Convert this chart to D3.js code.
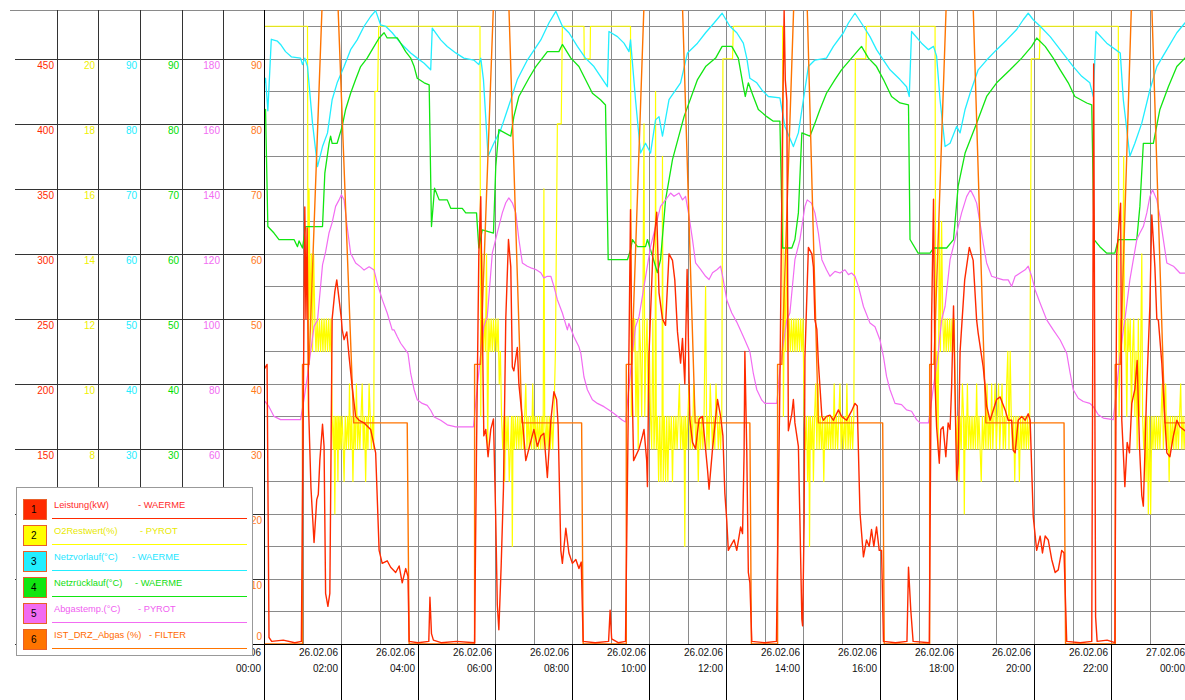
<!DOCTYPE html>
<html>
<head>
<meta charset="utf-8">
<script src="https://cdn.jsdelivr.net/npm/d3@7"></script>
<style>
  body { margin: 0; background: #fff; }
  text { font-family: "Liberation Sans", Arial, sans-serif; }
</style>
</head>
<body>
<div id="chart"></div>
<script>
// --- data: time in hours from 26.02.06 00:00 ---
var tickHours = [0, 2, 4, 6, 8, 10, 12, 14, 16, 18, 20, 22, 24];
var tickDates = ["26.02.06", "26.02.06", "26.02.06", "26.02.06", "26.02.06", "26.02.06", "26.02.06",
                 "26.02.06", "26.02.06", "26.02.06", "26.02.06", "26.02.06", "27.02.06"];
var tickTimes = ["00:00", "02:00", "04:00", "06:00", "08:00", "10:00", "12:00",
                 "14:00", "16:00", "18:00", "20:00", "22:00", "00:00"];

var leistungTicks = [0, 50, 100, 150, 200, 250, 300, 350, 400, 450];
var o2Ticks = [2, 4, 6, 8, 10, 12, 14, 16, 18, 20];
var vorlaufTicks = [0, 10, 20, 30, 40, 50, 60, 70, 80, 90];
var ruecklaufTicks = [0, 10, 20, 30, 40, 50, 60, 70, 80, 90];
var abgasTicks = [0, 20, 40, 60, 80, 100, 120, 140, 160, 180];
var drzTicks = [0, 10, 20, 30, 40, 50, 60, 70, 80, 90];

var seriesNames = ["Leistung(kW)", "O2Restwert(%)", "Netzvorlauf(\u00b0C)", "Netzr\u00fccklauf(\u00b0C)", "Abgastemp.(\u00b0C)", "IST_DRZ_Abgas (%)"];
var seriesSources = ["- WAERME", "- PYROT", "- WAERME", "- WAERME", "- PYROT", "- FILTER"];

// Leistung (kW)
var leistung = [[0,211],[0.08,215],[0.13,5],[0.2,2],[0.5,3],[0.8,1],[0.97,2],
 [1.02,180],[1.06,336],[1.09,250],[1.12,320],[1.16,180],[1.22,120],[1.30,78],[1.37,111],[1.41,115],[1.45,141],[1.52,169],[1.56,152],[1.60,39],[1.66,29],[1.71,39],[1.77,250],[1.84,271],[1.89,280],[1.95,265],[2.01,250],[2.03,242],[2.08,234],[2.15,240],[2.21,221],[2.29,198],[2.38,175],[2.47,172],[2.60,170],[2.77,165],[2.90,147],[2.99,72],[3.07,62],[3.20,64],[3.29,59],[3.42,55],[3.51,60],[3.59,47],[3.68,58],[3.74,52],[3.77,2],[4.0,1],[4.28,2],[4.31,36],[4.35,8],[4.40,3],[4.6,1],[5.0,2],[5.47,1],
 [5.52,150],[5.58,300],[5.63,344],[5.67,250],[5.71,160],[5.76,165],[5.82,144],[5.89,165],[5.96,173],[6.02,95],[6.06,30],[6.10,11],[6.16,60],[6.22,120],[6.28,250],[6.35,311],[6.41,290],[6.45,213],[6.49,210],[6.58,228],[6.62,200],[6.67,185],[6.71,173],[6.80,141],[6.88,150],[7.01,165],[7.10,152],[7.19,160],[7.27,162],[7.36,128],[7.45,172],[7.53,194],[7.60,188],[7.64,168],[7.71,72],[7.75,62],[7.84,89],[7.92,70],[8.01,62],[8.10,65],[8.18,58],[8.24,63],[8.29,2],[8.6,1],[8.95,2],[8.99,26],[9.03,4],[9.2,1],[9.39,2],
 [9.45,150],[9.52,334],[9.56,200],[9.60,141],[9.74,150],[9.83,160],[9.87,165],[9.94,141],[9.96,121],[10.0,223],[10.1,300],[10.2,332],[10.26,270],[10.35,250],[10.43,245],[10.52,300],[10.61,295],[10.67,280],[10.74,240],[10.82,216],[10.87,235],[10.93,200],[10.99,288],[11.06,173],[11.13,155],[11.21,150],[11.30,173],[11.39,175],[11.52,134],[11.56,119],[11.65,150],[11.78,188],[11.86,175],[11.92,160],[11.97,116],[12.02,95],[12.06,72],[12.15,77],[12.21,80],[12.28,72],[12.38,90],[12.43,85],[12.47,147],[12.49,225],[12.54,147],[12.58,55],[12.62,47],[12.67,2],[13.0,1],[13.31,2],
 [13.40,200],[13.47,400],[13.51,487],[13.54,434],[13.58,418],[13.62,164],[13.71,177],[13.75,188],[13.79,170],[13.88,152],[13.92,95],[13.97,19],[13.99,14],[14.03,95],[14.05,220],[14.14,305],[14.23,300],[14.27,290],[14.31,249],[14.36,242],[14.40,216],[14.44,198],[14.49,175],[14.53,172],[14.61,175],[14.70,176],[14.79,172],[14.92,180],[15.0,175],[15.13,172],[15.26,179],[15.35,185],[15.41,183],[15.48,101],[15.57,67],[15.65,80],[15.72,75],[15.78,88],[15.84,75],[15.91,90],[15.98,72],[16.04,72],[16.09,2],[16.4,1],[16.70,2],[16.74,59],[16.80,26],[16.86,2],[17.28,1],
 [17.34,250],[17.39,342],[17.43,200],[17.47,167],[17.54,139],[17.58,165],[17.64,167],[17.71,144],[17.77,170],[17.82,165],[17.86,198],[17.91,260],[17.99,126],[18.03,139],[18.08,225],[18.2,280],[18.32,305],[18.42,295],[18.51,249],[18.55,239],[18.60,229],[18.68,213],[18.73,198],[18.77,183],[18.86,172],[19.03,188],[19.12,190],[19.25,180],[19.33,172],[19.42,172],[19.46,149],[19.51,147],[19.59,172],[19.68,175],[19.77,172],[19.85,177],[19.90,172],[19.98,98],[20.07,72],[20.16,83],[20.22,70],[20.29,83],[20.37,80],[20.46,65],[20.55,55],[20.63,57],[20.72,72],[20.78,70],[20.85,2],[21.2,1],[21.50,2],[21.55,446],[21.60,21],[21.64,2],[21.9,3],[22.1,1],
 [22.15,300],[22.25,339],[22.28,172],[22.32,147],[22.36,121],[22.42,155],[22.48,147],[22.54,185],[22.62,196],[22.68,218],[22.74,152],[22.80,114],[22.84,106],[22.93,198],[23.01,260],[23.06,330],[23.14,290],[23.19,250],[23.23,249],[23.32,216],[23.36,193],[23.45,147],[23.53,144],[23.62,160],[23.71,172],[23.79,167],[23.92,164],[24,166]];

// O2Restwert (%)
var o2 = [[0,21],[1.13,21],[1.15,9],[1.17,16],[1.20,12],[1.23,14],[1.26,11],[1.29,14],[1.32,12],[1.35,11],[1.38,12],[1.41,11],[1.44,12],[1.47,11],[1.50,12],[1.53,11],[1.56,12],[1.59,11],[1.62,12],[1.65,11],[1.68,12],[1.71,11],[1.74,12],[1.77,9],[1.80,8],[1.82,9],[1.84,6],[1.86,9],[1.88,8],[1.90,9],[1.92,7],[1.94,9],[1.96,8],[1.98,9],[2.00,8],[2.03,9],[2.06,8],[2.08,7],[2.11,9],[2.14,8],[2.17,9],[2.20,8],[2.22,10],[2.25,8],[2.28,9],[2.31,7],[2.34,9],[2.37,8],[2.40,10],[2.43,8],[2.46,9],[2.49,8],[2.52,9],[2.55,10],[2.58,8],[2.61,9],[2.64,7],[2.67,9],[2.70,8],[2.73,10],[2.76,9],[2.79,8],[2.82,9],[2.85,8],[2.88,19],[2.95,19],[2.98,21],
 [5.61,21],[5.63,9],[5.66,14],[5.69,11],[5.72,12],[5.75,11],[5.78,14],[5.81,8],[5.84,12],[5.87,11],[5.90,12],[5.93,11],[5.96,12],[5.99,11],[6.02,12],[6.05,11],[6.08,12],[6.11,10],[6.14,11],[6.17,9],[6.20,8],[6.23,9],[6.25,7],[6.28,9],[6.31,8],[6.34,9],[6.37,7],[6.40,8],[6.43,9],[6.45,5],[6.47,9],[6.50,8],[6.53,9],[6.56,8],[6.59,9],[6.62,8],[6.65,9],[6.68,8],[6.71,9],[6.74,8],[6.77,9],[6.80,10],[6.83,8],[6.86,9],[6.89,8],[6.92,9],[6.95,8],[6.98,10],[7.01,8],[7.04,9],[7.07,8],[7.10,9],[7.13,8],[7.16,9],[7.19,8],[7.22,9],[7.25,8],[7.27,16],[7.29,9],[7.32,8],[7.35,9],[7.38,8],[7.41,9],[7.44,8],[7.47,9],[7.50,8],[7.53,9],[7.57,11],[7.62,18],[7.72,18],[7.75,21],[8.31,21],[8.32,20],[8.47,20],[8.48,21],
 [9.52,21],[9.54,9],[9.57,12],[9.60,11],[9.63,12],[9.66,9],[9.69,11],[9.72,8],[9.75,12],[9.78,11],[9.81,9],[9.84,12],[9.87,18],[9.89,9],[9.92,11],[9.95,12],[9.98,9],[10.01,11],[10.04,9],[10.07,8],[10.10,12],[10.13,8],[10.16,9],[10.17,19],[10.19,8],[10.22,9],[10.25,7],[10.28,9],[10.31,7],[10.34,9],[10.35,17],[10.37,7],[10.40,9],[10.43,7],[10.46,9],[10.49,7],[10.52,9],[10.55,8],[10.58,9],[10.61,7],[10.64,9],[10.67,8],[10.70,9],[10.73,8],[10.76,9],[10.79,10],[10.82,8],[10.85,9],[10.88,8],[10.91,9],[10.93,5],[10.95,9],[10.98,8],[11.01,9],[11.04,10],[11.07,8],[11.10,9],[11.13,8],[11.16,10],[11.19,9],[11.22,8],[11.25,9],[11.28,7],[11.31,9],[11.34,8],[11.37,9],[11.40,8],[11.43,9],[11.47,13],[11.50,8],[11.53,9],[11.56,8],[11.59,10],[11.62,9],[11.65,8],[11.68,9],[11.71,8],[11.74,10],[11.77,9],[11.80,8],[11.83,9],[11.86,8],[11.89,9],[11.92,20],[12.17,20],[12.19,21],
 [13.47,21],[13.49,9],[13.52,13],[13.55,11],[13.58,15],[13.61,11],[13.64,12],[13.67,11],[13.70,12],[13.73,11],[13.76,12],[13.79,11],[13.82,12],[13.85,11],[13.88,12],[13.91,11],[13.94,12],[13.97,11],[14.00,12],[14.03,9],[14.06,8],[14.09,9],[14.12,7],[14.15,9],[14.17,5],[14.19,9],[14.22,8],[14.25,9],[14.27,7],[14.30,9],[14.33,10],[14.36,8],[14.39,10],[14.42,8],[14.45,9],[14.48,8],[14.51,9],[14.54,7],[14.57,9],[14.60,8],[14.63,9],[14.66,8],[14.69,9],[14.72,8],[14.75,9],[14.78,8],[14.81,10],[14.84,8],[14.87,9],[14.90,8],[14.93,9],[14.96,10],[14.99,8],[15.02,9],[15.05,8],[15.08,9],[15.11,8],[15.14,10],[15.17,8],[15.20,9],[15.23,8],[15.26,9],[15.29,8],[15.32,9],[15.36,20],[15.63,20],[15.65,21],
 [17.43,21],[17.45,9],[17.48,11],[17.51,8],[17.54,15],[17.57,11],[17.60,15],[17.63,12],[17.66,11],[17.69,12],[17.72,11],[17.75,12],[17.78,11],[17.81,12],[17.84,11],[17.87,12],[17.90,11],[17.93,12],[17.96,9],[17.99,8],[18.02,9],[18.05,7],[18.08,9],[18.11,8],[18.14,10],[18.17,9],[18.19,6],[18.21,9],[18.24,8],[18.27,10],[18.30,8],[18.33,9],[18.36,8],[18.39,9],[18.42,8],[18.45,9],[18.48,8],[18.51,10],[18.54,8],[18.57,9],[18.60,8],[18.63,7],[18.66,9],[18.69,8],[18.72,9],[18.75,8],[18.78,10],[18.81,8],[18.84,9],[18.87,8],[18.90,10],[18.93,8],[18.96,9],[18.99,10],[19.02,8],[19.05,9],[19.08,10],[19.11,8],[19.14,9],[19.17,10],[19.20,8],[19.23,9],[19.26,8],[19.29,10],[19.32,11],[19.35,8],[19.38,11],[19.41,9],[19.44,8],[19.47,9],[19.50,7],[19.53,9],[19.56,8],[19.59,9],[19.62,7],[19.65,9],[19.68,8],[19.71,9],[19.74,8],[19.77,9],[19.80,8],[19.83,9],[19.86,8],[19.89,9],[19.93,20],[20.14,20],[20.16,21],
 [22.19,21],[22.21,9],[22.24,12],[22.27,11],[22.30,12],[22.33,17],[22.35,11],[22.38,12],[22.41,9],[22.44,12],[22.47,11],[22.50,12],[22.53,9],[22.56,11],[22.59,12],[22.62,9],[22.65,11],[22.68,8],[22.71,12],[22.74,9],[22.77,11],[22.80,14],[22.82,9],[22.85,8],[22.88,9],[22.91,7],[22.94,9],[22.97,6],[23.00,9],[23.03,6],[23.06,9],[23.09,8],[23.12,9],[23.15,8],[23.18,9],[23.21,8],[23.24,9],[23.27,8],[23.30,9],[23.33,10],[23.36,8],[23.39,9],[23.42,10],[23.45,8],[23.48,9],[23.51,7],[23.54,9],[23.57,8],[23.60,9],[23.63,8],[23.66,9],[23.69,8],[23.72,9],[23.75,8],[23.78,9],[23.81,10],[23.84,8],[23.87,9],[23.90,8],[23.93,9],[23.96,8],[24,9]];

// Netzvorlauf (°C)
var vorlauf = [[0,86],[0.04,87],[0.10,82],[0.19,93],[0.35,92.7],[0.43,92.2],[0.56,91.1],[0.71,90.3],[0.95,90.1],[1.0,89.1],[1.06,90.1],[1.13,88.8],[1.26,80.1],[1.39,73.4],[1.52,76.5],[1.65,78.6],[1.77,83.7],[1.90,86.3],[2.08,88.8],[2.25,91.4],[2.42,92.9],[2.60,95],[2.77,96.5],[2.90,97.4],[3.03,95.2],[3.16,95],[3.33,94],[3.55,92.4],[3.81,90.9],[3.98,90.1],[4.16,89.3],[4.33,88.3],[4.37,94.7],[4.59,92.9],[4.76,91.9],[4.98,90.9],[5.19,90.1],[5.45,89.8],[5.58,89.1],[5.63,90.1],[5.70,86.8],[5.82,75],[5.97,77],[6.15,79.1],[6.41,83.7],[6.58,86.8],[6.84,89.8],[7.19,92.9],[7.40,95.5],[7.58,97.3],[7.75,95],[7.92,94],[8.14,91.9],[8.35,90.1],[8.57,88.8],[8.74,87.3],[8.92,85.7],[8.96,94.2],[9.18,93.4],[9.35,92.4],[9.48,91.1],[9.52,92.9],[9.65,83.7],[9.78,75.5],[9.91,77],[10.04,75.5],[10.17,80.6],[10.26,81.1],[10.35,78.1],[10.52,83.7],[10.82,86.3],[11.0,90.9],[11.26,92.4],[11.47,94],[11.69,95.5],[11.90,97],
 [12.10,95],[12.28,94],[12.45,92.4],[12.54,90.1],[12.62,87],[12.80,86.3],[12.93,85.2],[13.10,84.2],[13.40,84],[13.53,79.6],[13.75,76.5],[13.88,78.6],[14.01,83.7],[14.14,88.8],[14.31,89.8],[14.61,90.1],[14.79,91.9],[15.05,94],[15.18,95.5],[15.35,97],[15.57,95],[15.74,93.4],[15.91,91.4],[16.09,89.8],[16.26,88.3],[16.52,86.8],[16.69,85.7],[16.76,84.2],[16.82,94.2],[17.08,92.4],[17.26,91.4],[17.39,91.9],[17.47,90.4],[17.56,83.7],[17.69,76.5],[17.82,77],[17.99,79.6],[18.08,78.6],[18.21,82.2],[18.34,84.7],[18.55,88.3],[18.77,89.8],[19.03,91.4],[19.29,92.9],[19.55,94.5],[19.72,96],[19.85,97],[19.98,96],[20.16,95],[20.42,93.4],[20.68,91.4],[21.02,88.8],[21.24,87.3],[21.45,86.3],[21.54,84.2],[21.61,94.2],[21.89,92.4],[22.19,91.1],[22.24,90.9],[22.32,83.7],[22.49,75],[22.62,77],[22.80,80.1],[23.01,85.2],[23.19,88.8],[23.45,91.4],[23.71,94],[23.92,95.5],[24,96]];

// Netzruecklauf (°C)
var ruecklauf = [[0,82],[0.04,82.2],[0.10,64.2],[0.26,63.2],[0.39,62.2],[0.78,62.2],[0.87,61.1],[0.91,62],[1.0,60.9],[1.08,64.2],[1.52,64.2],[1.58,72.4],[1.69,77],[1.73,78.1],[1.77,77],[1.90,77],[2.03,79.6],[2.12,82.2],[2.25,84.7],[2.38,86.8],[2.51,88.8],[2.68,90.1],[2.81,91.4],[2.99,93.2],[3.12,94],[3.20,93.2],[3.46,93.2],[3.55,92.4],[3.68,91.1],[3.81,90.1],[3.90,88.8],[3.98,87],[4.16,86.3],[4.29,86],[4.35,64.2],[4.43,70.1],[4.55,68.3],[4.76,68.3],[4.85,67],[5.15,67],[5.24,66.3],[5.52,66.3],[5.58,60.9],[5.67,63.7],[5.96,63.2],[6.02,73.4],[6.10,79.1],[6.41,78.1],[6.49,81.1],[6.62,84.2],[6.88,87],[7.06,88.8],[7.23,90.1],[7.36,91.1],[7.66,91.1],[7.75,92.2],[7.97,90.1],[8.18,88.8],[8.35,86.8],[8.53,84.7],[8.74,83.7],[8.87,82.9],[8.94,59.1],[9.44,59.1],[9.52,60.6],[9.57,62.2],[9.70,61.1],[9.91,61.1],[9.96,62.2],[10.22,57.1],[10.30,59.1],[10.43,68.3],[10.61,74.5],[10.91,81.1],[11.26,86.8],[11.47,88.8],[11.73,90.1],[11.90,91.9],[12.15,91.9],[12.32,90.1],[12.45,85.7],[12.50,84.2],[12.58,86.3],[12.71,84.2],[12.84,82.2],[13.06,81.1],[13.23,80.4],[13.40,80.4],[13.47,60.9],[13.71,60.9],[13.79,62.2],[13.88,66.3],[13.97,78.6],[14.18,78.1],[14.31,80.1],[14.44,82.2],[14.61,84.7],[14.83,86.8],[15.0,88.3],[15.26,90.1],[15.52,91.9],[15.70,90.1],[15.91,88.8],[16.09,86.8],[16.30,84.2],[16.52,83.2],[16.74,82.9],[16.78,62.2],[16.99,60.1],[17.30,60.1],[17.39,60.9],[17.73,60.9],[17.91,62.2],[18.03,70.4],[18.21,75.5],[18.51,80.1],[18.77,84.2],[19.03,86.3],[19.38,88.3],[19.68,90.1],[19.94,91.9],[20.07,93.2],[20.29,91.9],[20.50,90.1],[20.68,88.3],[20.89,86.3],[21.06,84.2],[21.37,83.2],[21.50,82.9],[21.56,62.2],[21.71,61.1],[21.89,60.1],[22.10,60.1],[22.19,62.2],[22.67,62.2],[22.75,67.3],[22.84,77],[23.10,77],[23.27,82.2],[23.49,85.7],[23.71,88.8],[23.92,90.1],[24,90.5]];

// Abgastemp. (°C)
var abgas = [[0,75],[0.13,73],[0.26,70],[0.43,69],[0.95,69],[1.04,75.4],[1.13,82.5],[1.21,89.7],[1.30,97.7],[1.39,99.6],[1.52,116.6],[1.60,120.6],[1.69,126.5],[1.77,129.6],[1.86,134.6],[1.95,136.6],[2.01,138.2],[2.08,136.6],[2.16,128.4],[2.25,120.2],[2.38,117.2],[2.51,116],[2.60,115],[2.73,116],[2.86,115],[2.94,111],[3.07,106],[3.20,101.8],[3.33,96.6],[3.38,96.6],[3.46,94.6],[3.55,92.5],[3.68,90.4],[3.74,89.4],[3.81,83.2],[3.90,78.2],[3.98,75.1],[4.11,74],[4.24,73.4],[4.33,71.9],[4.42,69.8],[4.59,68.8],[4.76,67.4],[4.98,66.8],[5.44,66.8],[5.54,79.1],[5.63,89.4],[5.71,97.6],[5.80,100.7],[5.93,120.2],[6.06,126.5],[6.19,132.6],[6.28,135.7],[6.36,137.2],[6.45,135.7],[6.54,132.6],[6.62,124.5],[6.71,117.2],[6.84,116.2],[6.93,115.7],[7.06,115.2],[7.19,114.2],[7.27,112.6],[7.36,113.1],[7.45,113.1],[7.53,110],[7.62,105.9],[7.75,101.8],[7.88,96.6],[7.92,98.6],[8.05,94.5],[8.18,91.4],[8.23,89.4],[8.31,82.2],[8.40,78.2],[8.53,75.1],[8.66,74],[8.83,73],[8.96,72],[9.09,70.9],[9.31,68.8],[9.39,68.3],[9.48,79.1],[9.57,89.4],[9.65,97.6],[9.74,100.6],[9.87,109.9],[10.04,122.2],[10.17,128.4],[10.30,134.6],[10.43,136.6],[10.56,138.7],[10.65,137.7],[10.78,138.7],[10.87,136.6],[10.95,137.7],[11.04,131.5],[11.13,124.4],[11.21,117.2],[11.34,115.2],[11.47,113.1],[11.56,112.1],[11.65,114.2],[11.77,115.2],[11.86,116.2],[11.93,112],[12.02,105.8],[12.15,101.8],[12.28,99],[12.45,94.6],[12.62,90],[12.71,83.2],[12.80,78.2],[12.93,75],[13.01,74],[13.32,74],[13.40,84.3],[13.49,92.5],[13.58,99.7],[13.66,101.8],[13.79,118.2],[13.92,124.4],[14.05,134.6],[14.11,136.6],[14.22,135.6],[14.31,132.6],[14.40,126.4],[14.49,118.2],[14.61,115.1],[14.70,113.1],[14.83,114.6],[14.96,114.1],[15.09,115.1],[15.18,113.6],[15.26,114.1],[15.35,113.1],[15.44,110],[15.57,103.8],[15.74,98.7],[15.87,97.6],[16.0,93.5],[16.09,88.4],[16.17,82.3],[16.26,78.2],[16.39,74],[16.56,73.6],[16.69,72],[16.82,71.6],[16.95,69],[17.04,68],[17.26,68],[17.39,79.2],[17.51,89.4],[17.60,99.7],[17.69,103.8],[17.82,118.2],[17.99,126.4],[18.12,132.6],[18.25,137.6],[18.35,139.7],[18.44,137.6],[18.51,135.6],[18.60,129.4],[18.68,123.3],[18.77,117.2],[18.90,113.1],[19.03,112.6],[19.20,112],[19.33,112],[19.42,110],[19.51,113.1],[19.64,114.1],[19.77,115.1],[19.85,116.2],[19.94,113.1],[20.03,108.9],[20.16,104.8],[20.33,99.7],[20.50,96.6],[20.68,93.5],[20.85,89.4],[20.94,83.2],[21.02,78.2],[21.15,75.6],[21.28,74.6],[21.45,74],[21.54,73],[21.67,70.5],[21.80,69.5],[22.06,69],[22.15,79.2],[22.23,88.4],[22.32,96.6],[22.36,99.7],[22.49,112],[22.58,118.2],[22.67,124.4],[22.75,126.4],[22.84,128.4],[22.93,132.6],[23.01,137.6],[23.08,139.7],[23.19,136.6],[23.27,131.5],[23.36,124.4],[23.45,117.2],[23.62,116.2],[23.71,115.1],[23.79,114.1],[23.92,114.1],[24,114]];

// IST_DRZ_Abgas (%)
var drz = [[0,0],[1.0,0],[1.0,43],[1.17,43],[1.52,100],[1.91,100],[2.33,34],[3.72,34],[3.77,0],
 [5.47,0],[5.47,43],[5.62,43],[5.97,100],[6.35,100],[6.70,34],[8.25,34],[8.29,0],
 [9.41,0],[9.41,43],[9.55,43],[9.88,100],[10.86,100],[11.2,34],[12.62,34],[12.66,0],
 [13.34,0],[13.34,43],[13.45,43],[13.77,100],[14.10,100],[14.40,34],[16.07,34],[16.11,0],
 [17.29,0],[17.29,43],[17.40,43],[17.73,100],[18.41,100],[18.75,34],[20.78,34],[20.82,0],
 [22.11,0],[22.11,43],[22.24,43],[22.54,100],[23.05,100],[23.40,34],[24,34]];

var colors = ["#ff2a00", "#ffff00", "#22eeff", "#11e611", "#f26cf2", "#ff7400"];

// --- layout ---
var width = 1185, height = 700;
var x0 = 264, yTop = 10, yBottom = 644;
var legendBox = { x: 16, y: 487, w: 236, h: 168 };

var x = d3.scaleLinear().domain([0, 24]).range([x0, x0 + 24 * 38.5]);
// one common grid, every channel has its own range on it
var yLeistung = d3.scaleLinear().domain([0, 487.5]).range([yBottom, yTop]);
var yO2 = d3.scaleLinear().domain([2, 21.5]).range([yBottom, yTop]);
var yVorlauf = d3.scaleLinear().domain([0, 97.5]).range([yBottom, yTop]);
var yRuecklauf = d3.scaleLinear().domain([0, 97.5]).range([yBottom, yTop]);
var yAbgas = d3.scaleLinear().domain([0, 195]).range([yBottom, yTop]);
var yDrz = d3.scaleLinear().domain([0, 97.5]).range([yBottom, yTop]);

var svg = d3.select("#chart").append("svg")
    .attr("width", width)
    .attr("height", height)
    .style("background", "white");

svg.append("clipPath").attr("id", "plot")
  .append("rect").attr("x", x0).attr("y", yTop).attr("width", width - x0).attr("height", yBottom - yTop);

// grid in the plot area: hours and 5% steps
var grid = svg.append("g");
grid.selectAll("line.h")
  .data(d3.range(0, 97.5, 5))
  .enter().append("line")
    .attr("x1", x0).attr("x2", width)
    .attr("y1", function(d) { return Math.round(yDrz(d)) + 0.5; })
    .attr("y2", function(d) { return Math.round(yDrz(d)) + 0.5; })
    .style("stroke", "#8a8a8a").style("stroke-width", 1);
grid.selectAll("line.v")
  .data(d3.range(1, 24))
  .enter().append("line")
    .attr("x1", function(d) { return Math.round(x(d)) + 0.5; })
    .attr("x2", function(d) { return Math.round(x(d)) + 0.5; })
    .attr("y1", yTop).attr("y2", yBottom)
    .style("stroke", "#8a8a8a").style("stroke-width", 1);
grid.append("line")
    .attr("x1", 10).attr("x2", width).attr("y1", yTop + 0.5).attr("y2", yTop + 0.5)
    .style("stroke", "#8a8a8a");

// left scale panel
var columns = [
  { ticks: leistungTicks, scale: yLeistung, color: colors[0], right: 54 },
  { ticks: o2Ticks, scale: yO2, color: "#f0f000", right: 95 },
  { ticks: vorlaufTicks, scale: yVorlauf, color: colors[2], right: 137 },
  { ticks: ruecklaufTicks, scale: yRuecklauf, color: "#00e000", right: 179 },
  { ticks: abgasTicks, scale: yAbgas, color: colors[4], right: 220 },
  { ticks: drzTicks, scale: yDrz, color: "#ff7a1a", right: 262 }
];
var panel = svg.append("g");
panel.selectAll("line.row")
  .data(drzTicks)
  .enter().append("line")
    .attr("x1", 15).attr("x2", x0)
    .attr("y1", function(d) { return Math.round(yDrz(d)) + 0.5; })
    .attr("y2", function(d) { return Math.round(yDrz(d)) + 0.5; })
    .style("stroke", "#333");
panel.selectAll("line.col")
  .data([57, 98, 140, 182, 223])
  .enter().append("line")
    .attr("x1", function(d) { return d + 0.5; }).attr("x2", function(d) { return d + 0.5; })
    .attr("y1", yTop).attr("y2", yBottom)
    .style("stroke", "#333");

function labelY(c, d, i) { return i === 0 ? c.scale(d) - 4 : c.scale(d) + 10; }
columns.forEach(function(c) {
  // labels sitting fully under the legend box are not drawn
  var shown = c.ticks.filter(function(d, i) {
    return c.right > legendBox.x + legendBox.w + 4 || labelY(c, d, i) < legendBox.y;
  });
  panel.selectAll(null)
    .data(shown)
    .enter().append("text")
      .text(function(d) { return d; })
      .attr("x", c.right)
      .attr("y", function(d) { return labelY(c, d, c.ticks.indexOf(d)); })
      .style("font-size", "10px")
      .style("text-anchor", "end")
      .style("fill", c.color);
});

// series
var plot = svg.append("g").attr("clip-path", "url(#plot)");
var series = [
  { data: o2, y: yO2, color: colors[1], w: 1.2 },
  { data: vorlauf, y: yVorlauf, color: colors[2], w: 1.3 },
  { data: ruecklauf, y: yRuecklauf, color: colors[3], w: 1.3 },
  { data: abgas, y: yAbgas, color: colors[4], w: 1.2 },
  { data: drz, y: yDrz, color: colors[5], w: 1.4 },
  { data: leistung, y: yLeistung, color: colors[0], w: 1.4 }
];
series.forEach(function(s) {
  var line = d3.line()
    .x(function(d) { return x(d[0]); })
    .y(function(d) { return s.y(d[1]); });
  plot.append("path")
    .datum(s.data)
    .attr("d", line)
    .style("fill", "none")
    .style("stroke", s.color)
    .style("stroke-width", s.w)
    .style("stroke-linejoin", "round");
});

// time axis
var axis = svg.append("g");
axis.append("line")
    .attr("x1", 252).attr("x2", width).attr("y1", yBottom + 0.5).attr("y2", yBottom + 0.5)
    .style("stroke", "#000");
axis.append("line")
    .attr("x1", x0 + 0.5).attr("x2", x0 + 0.5).attr("y1", yTop).attr("y2", height)
    .style("stroke", "#000");
axis.selectAll("line.tick")
  .data(tickHours.slice(1))
  .enter().append("line")
    .attr("x1", function(d) { return Math.round(x(d)) + 0.5; })
    .attr("x2", function(d) { return Math.round(x(d)) + 0.5; })
    .attr("y1", yBottom).attr("y2", height)
    .style("stroke", "#000");
axis.selectAll("text.date")
  .data(tickHours)
  .enter().append("text")
    .text(function(d, i) { return tickDates[i]; })
    .attr("x", function(d) { return x(d) - 3; })
    .attr("y", yBottom + 12)
    .style("font-size", "10px").style("text-anchor", "end").style("fill", "#111");
axis.selectAll("text.time")
  .data(tickHours)
  .enter().append("text")
    .text(function(d, i) { return tickTimes[i]; })
    .attr("x", function(d) { return x(d) - 3; })
    .attr("y", yBottom + 28)
    .style("font-size", "10px").style("text-anchor", "end").style("fill", "#111");

// legend box, drawn last so it covers the first date label like the original
var legend = svg.append("g");
legend.append("rect")
    .attr("x", legendBox.x + 0.5).attr("y", legendBox.y + 0.5)
    .attr("width", legendBox.w).attr("height", legendBox.h)
    .style("fill", "white").style("stroke", "#999");
var sourceX = [138, 140, 132, 135, 138, 149];
var textColors = ["#ff2a2a", "#e8e800", "#1ee6ff", "#10dd10", "#f060f0", "#ff6a00"];
seriesNames.forEach(function(name, i) {
  var top = 499 + i * 26;
  legend.append("rect")
      .attr("x", 23.5).attr("y", top + 0.5).attr("width", 23).attr("height", 20)
      .style("fill", colors[i]).style("stroke", "#e8602a");
  legend.append("text").text(i + 1)
      .attr("x", 31).attr("y", top + 14)
      .style("font-size", "10px").style("fill", "#000");
  legend.append("text").text(name)
      .attr("x", 54).attr("y", top + 9)
      .style("font-size", "9.3px").style("fill", textColors[i]);
  legend.append("text").text(seriesSources[i])
      .attr("x", sourceX[i]).attr("y", top + 9)
      .style("font-size", "9.3px").style("fill", textColors[i]);
  legend.append("line")
      .attr("x1", 52).attr("x2", 247).attr("y1", top + 19.5).attr("y2", top + 19.5)
      .style("stroke", colors[i]);
});
</script>
</body>
</html>
